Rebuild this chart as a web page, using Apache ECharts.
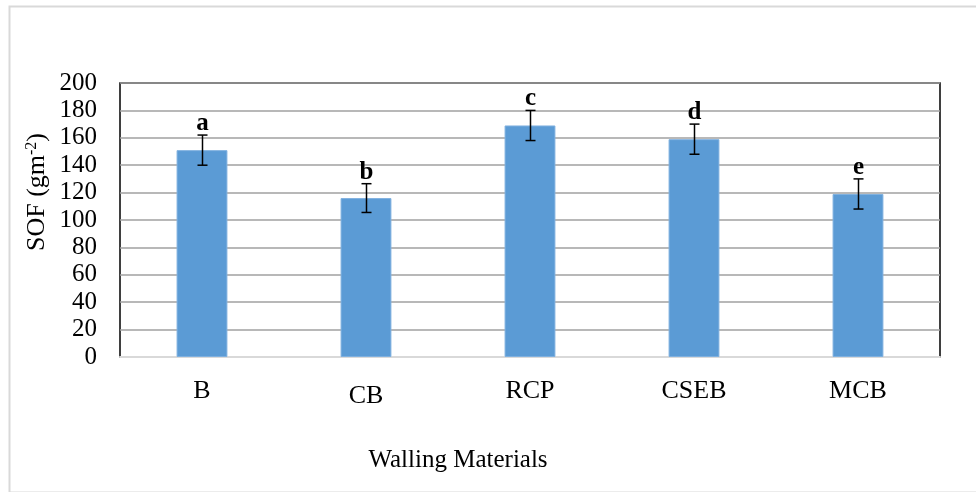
<!DOCTYPE html>
<html>
<head>
<meta charset="utf-8">
<script src="https://cdn.jsdelivr.net/npm/echarts@6/dist/echarts.min.js"></script>
<style>
html,body{margin:0;padding:0;background:#fff;}
#chart{width:976px;height:492px;}
</style>
</head>
<body>
<div id="chart"></div>
<script>
var categories = ['B', 'CB', 'RCP', 'CSEB', 'MCB'];
var sofValues = [151, 116, 169, 159, 119];
var sofErrors = [11, 10.5, 11, 11, 11];
var groupLetters = ['a', 'b', 'c', 'd', 'e'];
var yTicks = [0, 20, 40, 60, 80, 100, 120, 140, 160, 180, 200];

var errorData = categories.map(function (c, i) {
  return [i, sofValues[i] - sofErrors[i], sofValues[i] + sofErrors[i], groupLetters[i]];
});

var chart = echarts.init(document.getElementById('chart'));
var serif = '"Liberation Serif", "Times New Roman", serif';

chart.setOption({
  animation: false,
  backgroundColor: '#fff',
  grid: {
    left: 120, right: 36, top: 83, bottom: 135,
    show: true, borderColor: '#000', borderWidth: 1.5, backgroundColor: 'transparent'
  },
  xAxis: {
    type: 'category',
    data: categories,
    axisLine: { show: true, lineStyle: { color: '#d9d9d9', width: 2 } },
    axisTick: { show: false },
    axisLabel: {
      margin: 21,
      fontFamily: serif, fontSize: 26, color: '#000',
      formatter: function (v) { return v === 'CB' ? '{lo|' + v + '}' : '{n|' + v + '}'; },
      rich: {
        n: { fontFamily: serif, fontSize: 26, color: '#000' },
        lo: { fontFamily: serif, fontSize: 26, color: '#000', padding: [5, 0, 0, 0] }
      }
    },
    splitLine: { show: false }
  },
  yAxis: {
    type: 'value',
    min: yTicks[0], max: yTicks[yTicks.length - 1], interval: 20,
    axisLine: { show: false },
    axisTick: { show: false },
    axisLabel: { margin: 23, fontFamily: serif, fontSize: 25, color: '#000' },
    splitLine: { show: true, lineStyle: { color: '#a0a0a0', width: 1.6 } }
  },
  graphic: [
    {
      type: 'rect', left: 7, top: 4, z: -1,
      shape: { width: 980, height: 486 },
      style: { fill: 'none', stroke: '#d9d9d9', lineWidth: 2 }
    },
    {
      type: 'text', x: 458, y: 460,
      style: { text: 'Walling Materials', font: '25px ' + serif, fill: '#000', align: 'center', verticalAlign: 'middle' }
    },
    {
      type: 'text', x: 37, y: 192, rotation: Math.PI / 2,
      style: {
        text: '{m|SOF (gm}{s|-2}{m|)}',
        align: 'center', verticalAlign: 'middle',
        rich: {
          m: { fontFamily: serif, fontSize: 26, fill: '#000', verticalAlign: 'bottom' },
          s: { fontFamily: serif, fontSize: 16, fill: '#000', verticalAlign: 'top' }
        }
      }
    }
  ],
  series: [
    {
      type: 'bar',
      data: sofValues,
      barWidth: '31%',
      itemStyle: { color: '#5B9BD5', borderColor: '#7fb0df', borderWidth: 1 },
      z: 2
    },
    {
      type: 'custom',
      data: errorData,
      z: 5,
      renderItem: function (params, api) {
        var top = api.coord([api.value(0), api.value(2)]);
        var bot = api.coord([api.value(0), api.value(1)]);
        var x = Math.round(top[0]) + 0.5;
        var hw = 5;
        var st = { stroke: '#000', lineWidth: 1.5 };
        return {
          type: 'group',
          children: [
            { type: 'line', shape: { x1: x, y1: top[1], x2: x, y2: bot[1] }, style: st },
            { type: 'line', shape: { x1: x - hw, y1: top[1], x2: x + hw, y2: top[1] }, style: st },
            { type: 'line', shape: { x1: x - hw, y1: bot[1], x2: x + hw, y2: bot[1] }, style: st },
            {
              type: 'text', x: x, y: top[1] + 1,
              style: {
                text: groupLetters[params.dataIndex],
                font: 'bold 25px ' + serif, fill: '#000',
                align: 'center', verticalAlign: 'bottom'
              }
            }
          ]
        };
      }
    }
  ]
});
</script>
</body>
</html>
